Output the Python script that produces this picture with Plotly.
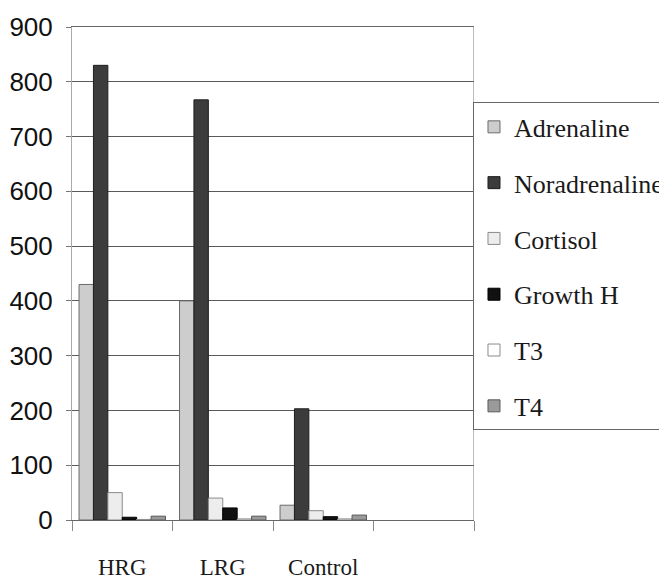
import plotly.graph_objects as go

groups = ["HRG", "LRG", "Control"]
group_pos = [0, 1, 2]
adrenaline = [430, 400, 27]
noradrenaline = [830, 767, 203]
cortisol = [50, 40, 17]
growth_h = [5, 22, 6]
t3 = [1, 2, 2]
t4 = [7, 7, 9]

series = [
    ("Adrenaline", adrenaline, "#cdcdcd", "#6a6a6a"),
    ("Noradrenaline", noradrenaline, "#3c3c3c", "#1e1e1e"),
    ("Cortisol", cortisol, "#ededed", "#8a8a8a"),
    ("Growth H", growth_h, "#111111", "#000000"),
    ("T3", t3, "#ffffff", "#8a8a8a"),
    ("T4", t4, "#9a9a9a", "#5a5a5a"),
]
y_ticks = [0, 100, 200, 300, 400, 500, 600, 700, 800, 900]
boundaries = [-0.5, 0.5, 1.5, 2.5, 3.5]

fig = go.Figure()
for name, vals, fill, edge in series:
    fig.add_trace(go.Bar(
        name=name, x=group_pos, y=vals, legendgroup=name,
        marker=dict(color=fill, line=dict(color=edge, width=1)),
    ))

# invisible trace to carry boundary tick marks
fig.add_trace(go.Scatter(x=[boundaries[0]], y=[0], xaxis="x2", mode="markers",
                         marker=dict(opacity=0), showlegend=False, hoverinfo="skip"))

fig.update_layout(
    width=659, height=579,
    margin=dict(l=72, r=185, t=27, b=59, autoexpand=False),
    paper_bgcolor="white", plot_bgcolor="white",
    barmode="group", bargap=0.14, bargroupgap=0,
    font=dict(family="Liberation Serif, Times New Roman, serif", color="#1a1a1a"),
    xaxis=dict(
        range=[-0.5, 3.5], tickvals=group_pos, ticktext=groups,
        ticks="", showgrid=False, zeroline=False,
        showline=True, linecolor="#666", linewidth=1, mirror=True,
        tickfont=dict(family="Liberation Serif, Times New Roman, serif", size=23, color="#1a1a1a"),
        ticklabelstandoff=26,
    ),
    xaxis2=dict(
        range=[-0.5, 3.5], overlaying="x", anchor="y", side="bottom",
        tickvals=boundaries, ticks="outside", ticklen=10, tickcolor="#888",
        showticklabels=False, showgrid=False, zeroline=False, showline=False,
    ),
    yaxis=dict(
        range=[0, 900], tickvals=y_ticks,
        showgrid=True, gridcolor="#5a5a5a", gridwidth=1,
        zeroline=False, showline=True, linecolor="#aaa", linewidth=1,
        mirror=False, ticks="outside", ticklen=5, tickcolor="#777",
        tickfont=dict(family="Liberation Sans, Arial, sans-serif",
                      size=26, color="#111"),
        ticklabelstandoff=8,
    ),
    legend=dict(
        x=0.9975, y=0.847, xanchor="left", yanchor="top",
        bgcolor="white", bordercolor="#666", borderwidth=1,
        font=dict(family="Liberation Serif, Times New Roman, serif", size=26, color="#1a1a1a"),
        tracegroupgap=19, itemwidth=30,
    ),
    shapes=[dict(type="line", xref="x", yref="paper", x0=3.5, x1=3.5, y0=0, y1=1,
                 line=dict(color="#777", width=1))],
)

fig.write_html("out.html")
